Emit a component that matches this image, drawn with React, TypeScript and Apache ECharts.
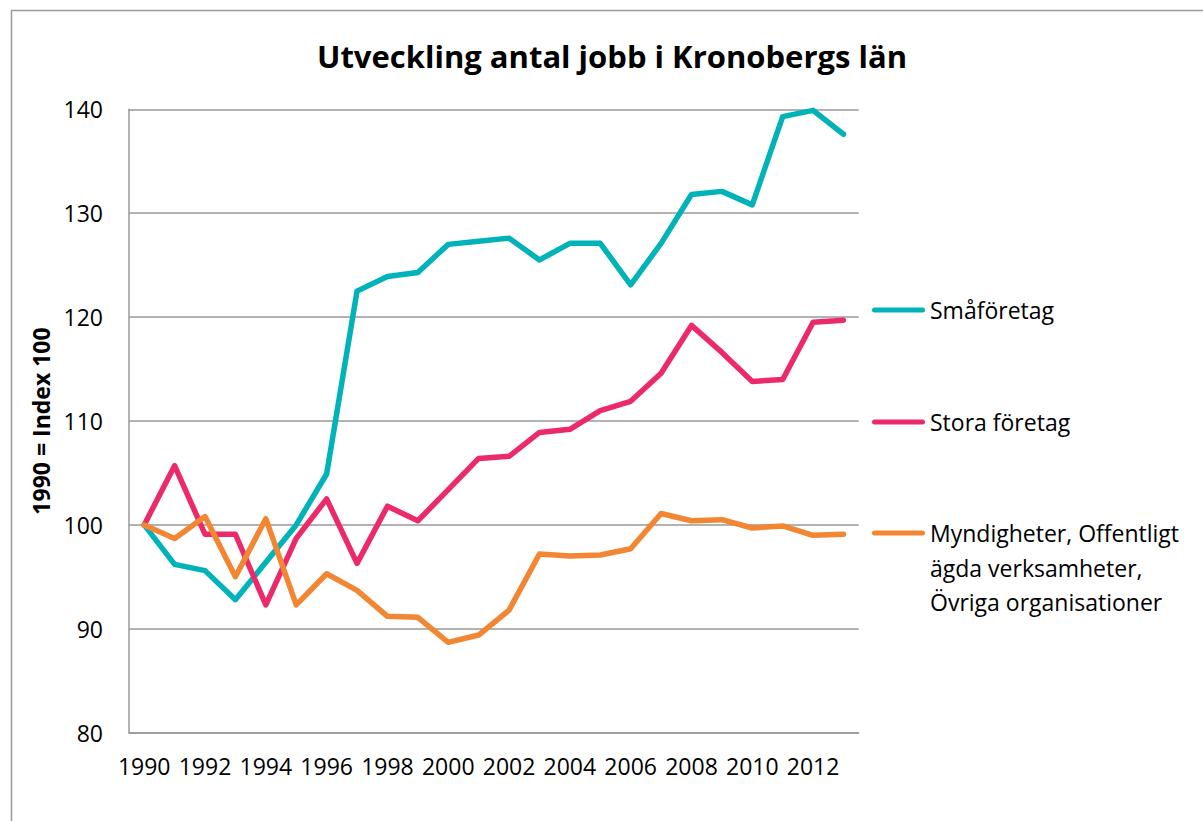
import React, { useEffect, useRef } from "react";
import * as echarts from "echarts";

const years = [
  "1990", "1991", "1992", "1993", "1994", "1995", "1996", "1997", "1998", "1999", "2000", "2001",
  "2002", "2003", "2004", "2005", "2006", "2007", "2008", "2009", "2010", "2011", "2012", "2013",
];
const smaforetag = [
  100, 96.2, 95.6, 92.8, 96.4, 100.0, 104.9, 122.5, 123.9, 124.3, 127.0, 127.3,
  127.6, 125.5, 127.1, 127.1, 123.1, 127.1, 131.8, 132.1, 130.8, 139.3, 139.9, 137.6,
];
const storaForetag = [
  100, 105.7, 99.1, 99.1, 92.3, 98.7, 102.5, 96.3, 101.8, 100.4, 103.4, 106.4,
  106.6, 108.9, 109.2, 111.0, 111.9, 114.6, 119.2, 116.6, 113.8, 114.0, 119.5, 119.7,
];
const myndigheter = [
  100, 98.7, 100.8, 95.0, 100.6, 92.3, 95.3, 93.7, 91.2, 91.1, 88.7, 89.4,
  91.8, 97.2, 97.0, 97.1, 97.7, 101.1, 100.4, 100.5, 99.7, 99.9, 99.0, 99.1,
];
const seriesNames = [
  "Småföretag",
  "Stora företag",
  "Myndigheter, Offentligt\nägda verksamheter,\nÖvriga organisationer",
];
const colors = ["#00B3B9", "#EC2A6A", "#F28633"];
const yTicks = { min: 80, max: 140, interval: 10 };
const title = "Utveckling antal jobb i Kronobergs län";
const yAxisName = "1990 = Index 100";

const FONT = "'Open Sans', 'Liberation Sans', sans-serif";
const capsule = "path://M2.5,0 L50.5,0 A2.5,2.5 0 0 1 50.5,5 L2.5,5 A2.5,2.5 0 0 1 2.5,0 Z";

export default function App() {
  const ref = useRef<HTMLDivElement>(null);
  useEffect(() => {
    if (!ref.current) return;
    const chart = echarts.init(ref.current, null, { renderer: "svg" });
    const datasets = [smaforetag, storaForetag, myndigheter];
    const L = 34.5;
    const centers = [310, 422, 533];
    const lineCounts = [1, 1, 5];
    chart.setOption({
      animation: false,
      backgroundColor: "#ffffff",
      title: {
        text: title,
        left: 612,
        top: 40,
        padding: 0,
        textAlign: "center",
        textStyle: { fontFamily: FONT, fontWeight: "bold", fontSize: 31, color: "#000" },
      },
      graphic: [
        {
          type: "rect",
          shape: { x: 11.5, y: 10.5, width: 1300, height: 900 },
          style: { fill: "none", stroke: "#9a9a9a", lineWidth: 1.5 },
          silent: true,
        },
      ],
      legend: seriesNames.map((n, i) => ({
        orient: "vertical",
        left: 872,
        top: centers[i] - (lineCounts[i] * L) / 2,
        padding: 0,
        itemWidth: 53,
        itemHeight: 5,
        icon: capsule,
        selectedMode: false,
        data: [n],
        formatter: (name: string) => (i === 2 ? "\n\n" + name : name),
        textStyle: { fontFamily: FONT, fontSize: 23, color: "#000", lineHeight: L },
      })),
      grid: { left: 129, right: 344.3, top: 109.3, bottom: 88.3, containLabel: false },
      xAxis: {
        type: "category",
        data: years,
        boundaryGap: true,
        axisLine: { lineStyle: { color: "#999", width: 1.5 } },
        axisTick: { show: false },
        axisLabel: { interval: 1, margin: 22, fontFamily: FONT, fontSize: 23, color: "#000" },
      },
      yAxis: {
        type: "value",
        min: yTicks.min,
        max: yTicks.max,
        interval: yTicks.interval,
        name: yAxisName,
        nameLocation: "middle",
        nameRotate: 90,
        nameGap: 76,
        nameTextStyle: { fontFamily: FONT, fontWeight: "bold", fontSize: 23, color: "#000" },
        axisLine: { show: true, lineStyle: { color: "#999", width: 1.5 } },
        axisTick: { show: false },
        axisLabel: { margin: 26, fontFamily: FONT, fontSize: 23, color: "#000" },
        splitLine: { lineStyle: { color: "#999", width: 1.5 } },
      },
      series: seriesNames.map((n, i) => ({
        name: n,
        type: "line",
        data: datasets[i],
        symbol: "none",
        color: colors[i],
        lineStyle: { width: 5.5, color: colors[i], cap: "round", join: "round" },
      })),
    });
    return () => chart.dispose();
  }, []);
  return (
    <div
      ref={ref}
      style={{ position: "fixed", left: 0, top: 0, width: 1203, height: 821, background: "#fff" }}
    />
  );
}
